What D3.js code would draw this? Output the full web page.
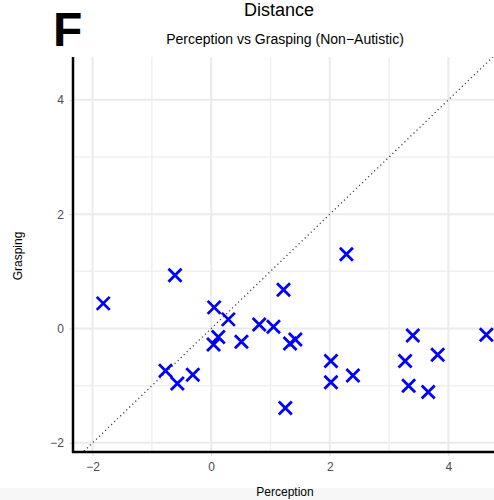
<!DOCTYPE html>
<html>
<head>
<meta charset="utf-8">
<style>
  body { margin: 0; background: #fff; font-family: "Liberation Sans", Arial, sans-serif; }
  svg { display: block; }
</style>
</head>
<body>
<svg id="chart" width="494" height="500"></svg>
<script src="https://d3js.org/d3.v7.min.js"></script>
<script>
// values
const perception = [-1.82, -0.61, 0.05, 0.29, 0.12, 0.04, 0.51, 0.81, 1.05, -0.77, -0.57, -0.31,
                    2.28, 1.22, 1.42, 1.33, 2.02, 2.02, 2.39, 1.25, 3.40, 3.27, 3.82, 3.33, 3.66, 4.64];
const grasping   = [0.44, 0.93, 0.37, 0.16, -0.15, -0.28, -0.23, 0.07, 0.03, -0.74, -0.96, -0.81,
                    1.30, 0.68, -0.19, -0.26, -0.57, -0.94, -0.82, -1.39, -0.12, -0.57, -0.46, -1.00, -1.11, -0.11];
const xTicks = [-2, 0, 2, 4];
const yTicks = [-2, 0, 2, 4];
const xMinor = [-1, 1, 3];
const yMinor = [-1, 1, 3];

const svg = d3.select("#chart");
const pLeft = 73, pRight = 497, pTop = 57, pBottom = 452;

const x = d3.scaleLinear().domain([-2.33, 4.82]).range([pLeft, pRight]);
const y = d3.scaleLinear().domain([-2.16, 4.75]).range([pBottom, pTop]);

// faint band at the very bottom
svg.append("rect").attr("x", 0).attr("y", 488).attr("width", 494).attr("height", 12).attr("fill", "#f7f7f7");

const panel = svg.append("g");
panel.append("clipPath").attr("id", "clip")
  .append("rect").attr("x", pLeft).attr("y", pTop).attr("width", pRight - pLeft).attr("height", pBottom - pTop);

// grid
panel.selectAll(".vminor").data(xMinor).join("line")
  .attr("x1", d => x(d)).attr("x2", d => x(d)).attr("y1", pTop).attr("y2", pBottom)
  .attr("stroke", "#f0f0f0").attr("stroke-width", 1.5);
panel.selectAll(".hminor").data(yMinor).join("line")
  .attr("y1", d => y(d)).attr("y2", d => y(d)).attr("x1", pLeft).attr("x2", pRight)
  .attr("stroke", "#f0f0f0").attr("stroke-width", 1.5);
panel.selectAll(".vmajor").data(xTicks).join("line")
  .attr("x1", d => x(d)).attr("x2", d => x(d)).attr("y1", pTop).attr("y2", pBottom)
  .attr("stroke", "#ebebeb").attr("stroke-width", 2);
panel.selectAll(".hmajor").data(yTicks).join("line")
  .attr("y1", d => y(d)).attr("y2", d => y(d)).attr("x1", pLeft).attr("x2", pRight)
  .attr("stroke", "#ebebeb").attr("stroke-width", 2);

// y = x reference line
const lo = -2.4, hi = 5;
panel.append("line").attr("clip-path", "url(#clip)")
  .attr("x1", x(lo)).attr("y1", y(lo)).attr("x2", x(hi)).attr("y2", y(hi))
  .attr("stroke", "#444").attr("stroke-width", 1.3).attr("stroke-dasharray", "1.2 3");

// points as X marks
const pts = perception.map((p, i) => ({p: p, g: grasping[i]}));
const s = 6.5;
panel.selectAll(".pt").data(pts).join("path")
  .attr("d", d => {
    const cx = x(d.p), cy = y(d.g);
    return `M${cx - s},${cy - s}L${cx + s},${cy + s}M${cx - s},${cy + s}L${cx + s},${cy - s}`;
  })
  .attr("stroke", "#0000ff").attr("stroke-width", 2.8).attr("fill", "none");

// axes
const fmt = d => d < 0 ? "\u2212" + Math.abs(d) : d;
const xAxis = svg.append("g").attr("transform", `translate(0,${pBottom})`)
  .call(d3.axisBottom(x).tickValues(xTicks).tickSize(4).tickPadding(6).tickFormat(fmt));
const yAxis = svg.append("g").attr("transform", `translate(${pLeft},0)`)
  .call(d3.axisLeft(y).tickValues(yTicks).tickSize(4).tickPadding(5).tickFormat(fmt));
[xAxis, yAxis].forEach(a => {
  a.select(".domain").remove();
  a.selectAll(".tick line").attr("stroke", "#dddddd");
  a.selectAll(".tick text").attr("fill", "#4d4d4d").attr("font-size", 12)
    .attr("font-family", "Liberation Sans, Arial, sans-serif");
});
svg.append("line").attr("x1", pLeft).attr("x2", pLeft).attr("y1", pTop).attr("y2", pBottom + 1)
  .attr("stroke", "#000").attr("stroke-width", 2.5);
svg.append("line").attr("x1", pLeft - 1).attr("x2", pRight).attr("y1", pBottom).attr("y2", pBottom)
  .attr("stroke", "#000").attr("stroke-width", 2.5);

// labels
svg.append("text").attr("x", 285).attr("y", 496).attr("text-anchor", "middle")
  .attr("font-size", 12).attr("fill", "#000").text("Perception");
svg.append("text").attr("transform", "translate(22,256) rotate(-90)").attr("text-anchor", "middle")
  .attr("font-size", 12).attr("fill", "#000").text("Grasping");

svg.append("text").attr("x", 279).attr("y", 16).attr("text-anchor", "middle")
  .attr("font-size", 18).attr("fill", "#000").text("Distance");
svg.append("text").attr("x", 285).attr("y", 44).attr("text-anchor", "middle")
  .attr("font-size", 14).attr("fill", "#000").text("Perception vs Grasping (Non\u2212Autistic)");
svg.append("text").attr("x", 53).attr("y", 46).attr("font-size", 48).attr("font-weight", "bold")
  .attr("fill", "#000").text("F");
</script>
</body>
</html>
